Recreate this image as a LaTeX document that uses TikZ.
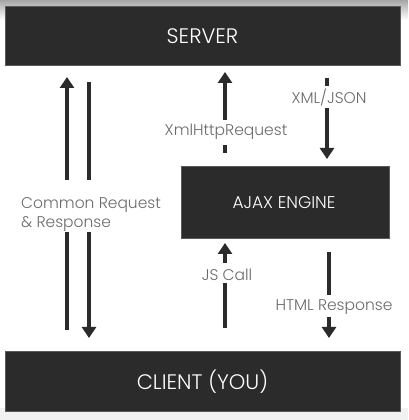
\documentclass[tikz,border=0pt]{standalone}
\usepackage{fontspec}
\setmainfont{Poppins Light}
\usetikzlibrary{arrows.meta}
\definecolor{boxfill}{HTML}{2B2B2B}
\definecolor{boxedge}{HTML}{5A5A5A}
\definecolor{labelgray}{HTML}{6A6A6A}
\definecolor{arrowdark}{HTML}{2B2B2B}
\tikzset{
  darkbox/.style={fill=boxfill, draw=boxedge, line width=0.8pt},
  boxtext/.style={text=white},
  lbl/.style={text=labelgray, font=\fontsize{15.5}{19}\selectfont, inner sep=0pt},
  shaft/.style={draw=arrowdark, line width=4pt},
  arr/.style={shaft, -{Triangle[width=14pt,length=11pt]}},
}
\begin{document}
\begin{tikzpicture}[x=1pt,y=1pt]
\useasboundingbox (0,0) rectangle (408,420);
\shade[top color=gray!70, bottom color=white] (0,400) rectangle (408,420);
\fill[black!5] (0,0) rectangle (408,12);
% boxes
\draw[darkbox] (5,355) rectangle (400,414);
\node[boxtext, font=\fontsize{21}{25}\selectfont] (server) at (202.5,384) {SERVER};
\draw[darkbox] (5,9) rectangle (400,69);
\node[boxtext, font=\fontsize{21}{25}\selectfont] (client) at (202.5,38) {CLIENT (YOU)};
\draw[darkbox] (181,182) rectangle (389,254);
\node[boxtext, font=\fontsize{17}{20}\selectfont] (ajax) at (284,217) {AJAX ENGINE};
% labels
\node[lbl, anchor=west, align=left] (common) at (21,205.5) {Common Request\\[0pt]\& Response};
\node[lbl] (xhr) at (226,288) {XmlHttpRequest};
\node[lbl] (xml) at (329,322) {XML/JSON};
\node[lbl] (js) at (227,145) {JS Call};
\node[lbl] (html) at (334,113) {HTML Response};
% coordinates
\coordinate (a1s) at (67,90); \coordinate (a1m) at (67,188);
\coordinate (a1n) at (67,240); \coordinate (a1t) at (67,343);
\coordinate (a2s) at (89,338); \coordinate (a2m) at (89,240);
\coordinate (a2n) at (89,188); \coordinate (a2t) at (89,82);
\coordinate (a3s) at (225,267); \coordinate (a3m) at (225,275);
\coordinate (a3n) at (225,300); \coordinate (a3t) at (225,348);
\coordinate (a4s) at (327,342); \coordinate (a4m) at (327,334);
\coordinate (a4n) at (327,312); \coordinate (a4t) at (327,261);
\coordinate (a5s) at (225,92); \coordinate (a5m) at (225,137);
\coordinate (a5n) at (225,157); \coordinate (a5t) at (225,177);
\coordinate (a6s) at (329,168); \coordinate (a6m) at (329,125);
\coordinate (a6n) at (329,103); \coordinate (a6t) at (329,82);
% arrows
\draw[shaft] (a1s) -- (a1m); \draw[arr] (a1n) -- (a1t);
\draw[shaft] (a2s) -- (a2m); \draw[arr] (a2n) -- (a2t);
\draw[shaft] (a3s) -- (a3m); \draw[arr] (a3n) -- (a3t);
\draw[shaft] (a4s) -- (a4m); \draw[arr] (a4n) -- (a4t);
\draw[shaft] (a5s) -- (a5m); \draw[arr] (a5n) -- (a5t);
\draw[shaft] (a6s) -- (a6m); \draw[arr] (a6n) -- (a6t);
\end{tikzpicture}
\end{document}
